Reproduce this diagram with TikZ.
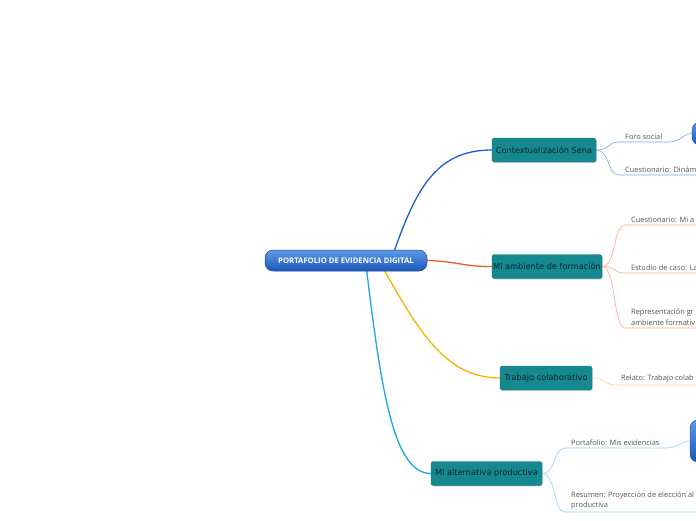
\documentclass[tikz,border=0pt]{standalone}
\usepackage{fontspec}
\setmainfont{Open Sans}
\newfontfamily\branchfont{DejaVu Sans}
\newfontfamily\leaffont{Open Sans}
\usetikzlibrary{calc,shadows,backgrounds}
\definecolor{rootdark}{HTML}{1A4A9A}
\definecolor{roottop}{HTML}{5B9AE8}
\definecolor{rootbot}{HTML}{1C56BA}
\definecolor{tealfill}{HTML}{15898F}
\definecolor{tealdraw}{HTML}{0F6F75}
\definecolor{tealtext}{HTML}{06262A}
\definecolor{cblue}{HTML}{1F5FD0}
\definecolor{corange}{HTML}{EE5A24}
\definecolor{cyellow}{HTML}{F7B500}
\definecolor{clblue}{HTML}{19A7E6}
\definecolor{sblue}{HTML}{7FA6EA}
\definecolor{sorange}{HTML}{F7A890}
\definecolor{syellow}{HTML}{F8D478}
\definecolor{slblue}{HTML}{8CD2F4}
\definecolor{leaftext}{HTML}{555555}
\tikzset{
  rootbox/.style={rounded corners=8pt, draw=rootdark, line width=0.5pt, top color=roottop, bottom color=rootbot, text=white, font=\fontsize{7.7}{8}\selectfont\bfseries, minimum width=162pt, minimum height=21pt, inner sep=0pt},
  branchbox/.style={rounded corners=2.5pt, fill=tealfill, draw=tealdraw, line width=0.4pt, text=tealtext, font=\branchfont\fontsize{8.2}{9}\selectfont, minimum height=24pt, inner sep=0pt, drop shadow={shadow xshift=0.8pt, shadow yshift=-1pt, opacity=0.3}},
  blobbox/.style={rounded corners=8pt, draw=rootdark, top color=roottop, bottom color=rootbot, inner sep=0pt},
  leaf/.style={font=\leaffont\fontsize{7.4}{10.5}\selectfont, text=leaftext, anchor=south west, inner sep=1pt, align=left},
  mainline/.style={line width=1.3pt, line cap=round},
  subline/.style={line width=0.6pt}
}
\begin{document}
\begin{tikzpicture}[x=1pt,y=-1pt]
\useasboundingbox (0,0) rectangle (696,520);
\clip (0,0) rectangle (696,520);
% main nodes
\node[rootbox] (root) at (346,260.5) {PORTAFOLIO DE EVIDENCIA DIGITAL};
\node[branchbox, minimum width=104pt] (ctx) at (544,150) {Contextualización Sena};
\node[branchbox, minimum width=110pt] (amb) at (547,266.5) {Mi ambiente de formación};
\node[branchbox, minimum width=92pt] (trab) at (546,378) {Trabajo colaborativo};
\node[branchbox, minimum width=111pt] (alt) at (486.5,473.5) {Mi alternativa productiva};
% blobs at right edge
\node[blobbox, minimum width=26pt, minimum height=23pt] (blobA) at (705,133.5) {};
\node[blobbox, minimum width=26pt, minimum height=42pt] (blobB) at (703,441) {};
% leaves
\node[leaf] (fs) at (624,140.5) {Foro social};
\node[leaf] (cd) at (624,173.5) {Cuestionario: Dinám};
\node[leaf] (cm) at (630,223.5) {Cuestionario: Mi a};
\node[leaf] (ec) at (630,271.5) {Estudio de caso: La};
\node[leaf] (rg) at (630,326.5) {Representación gr\\ambiente formativ};
\node[leaf] (rt) at (620,383.5) {Relato: Trabajo colab};
\node[leaf] (pm) at (570,446.5) {Portafolio: Mis evidencias};
\node[leaf] (rp) at (570,510.5) {Resumen: Proyección de elección al\\productiva};
% anchors for underlines
\coordinate (fsA) at (619,142); \coordinate (fsB) at (668,142);
\coordinate (cdA) at (619,175); \coordinate (cdB) at (700,175);
\coordinate (cmA) at (625,225); \coordinate (cmB) at (700,225);
\coordinate (ecA) at (625,273); \coordinate (ecB) at (700,273);
\coordinate (rgA) at (625,328); \coordinate (rgB) at (700,328);
\coordinate (rtA) at (615,385); \coordinate (rtB) at (700,385);
\coordinate (pmA) at (565,448); \coordinate (pmB) at (666,448);
\coordinate (rpA) at (565,512); \coordinate (rpB) at (700,512);
\begin{scope}[on background layer]
\fill[white] (0,0) rectangle (696,520);
% main connectors
\draw[mainline, cblue] ($(root.center)+(45,0)$) .. controls (415,190) and (435,150) .. (ctx.west);
\draw[mainline, corange] (root.east) .. controls (455,261) and (465,267) .. (amb.west);
\draw[mainline, cyellow] ($(root.center)+(35,4)$) .. controls (418,330) and (445,378) .. (trab.west);
\draw[mainline, clblue] ($(root.center)+(20,4)$) .. controls (382,400) and (395,473) .. (alt.west);
% sub connectors
\draw[subline, sblue] (ctx.east) .. controls +(14,0) and +(-12,0) .. (fsA) -- (fsB) .. controls +(12,0) and +(-8,0) .. (blobA.west);
\draw[subline, sblue] (ctx.east) .. controls +(14,0) and +(-12,0) .. (cdA) -- (cdB);
\draw[subline, sorange] (amb.east) .. controls +(14,0) and +(-12,0) .. (cmA) -- (cmB);
\draw[subline, sorange] (amb.east) .. controls +(14,0) and +(-12,0) .. (ecA) -- (ecB);
\draw[subline, sorange] (amb.east) .. controls +(14,0) and +(-12,0) .. (rgA) -- (rgB);
\draw[subline, syellow] (trab.east) .. controls +(12,0) and +(-10,0) .. (rtA) -- (rtB);
\draw[subline, slblue] (alt.east) .. controls +(14,0) and +(-12,0) .. (pmA) -- (pmB) .. controls +(12,0) and +(-8,0) .. (blobB.west);
\draw[subline, slblue] (alt.east) .. controls +(14,0) and +(-12,0) .. (rpA) -- (rpB);
\end{scope}
\end{tikzpicture}
\end{document}
